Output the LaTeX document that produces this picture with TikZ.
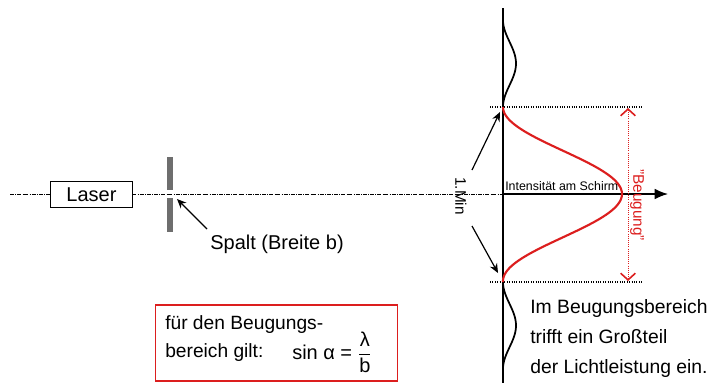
\documentclass[tikz,border=0pt]{standalone}
\usepackage{amsmath}
\usepackage{fontspec}
\setmainfont{Liberation Sans}
\usetikzlibrary{arrows.meta}
\definecolor{beugred}{RGB}{220,30,30}
\definecolor{slitgray}{RGB}{110,110,110}
\tikzset{
  axisline/.style={densely dash dot, line width=0.5pt},
  dotline/.style={densely dotted, line width=0.8pt},
  ptr/.style={-{Stealth[length=7pt,width=6pt]}, line width=0.9pt},
  txt/.style={inner sep=0pt, font=\fontsize{15}{17}\selectfont},
}
\begin{document}
\begin{tikzpicture}[x=0.75pt,y=-0.75pt]
\useasboundingbox (0,0) rectangle (716,383);
% optical axis
\coordinate (axL) at (10,194);
\coordinate (scr) at (503,194);
\coordinate (axR) at (668,194);
\draw[axisline] (axL) -- (scr);
% laser
\node[draw, line width=0.6pt, minimum width=62pt, minimum height=20pt, inner sep=0pt, fill=white, font=\fontsize{15}{17}\selectfont] (laser) at (91.5,194.5) {Laser};
% slit
\fill[slitgray] (167,157) rectangle (173,190);
\fill[slitgray] (167,198) rectangle (173,232);
\coordinate (slit) at (177,199);
\node[txt] (spalt) at (277,244) {Spalt (Breite b)};
\draw[ptr] (207,229) -- (slit);
% screen
\coordinate (scrT) at (503,8);
\coordinate (scrB) at (503,383);
\draw[line width=1.2pt] (scrT) -- (scrB);
% intensity axis
\draw[-{Latex[length=10pt,width=8pt]}, line width=1.1pt] (scr) -- (axR);
\node[inner sep=0pt, anchor=south west, font=\fontsize{9.3}{11}\selectfont] (intens) at (505,191) {Intensität am Schirm};
% dotted lines
\coordinate (d1L) at (490,107); \coordinate (d1R) at (643,107);
\coordinate (d2L) at (490,282); \coordinate (d2R) at (643,282);
\draw[dotline] (d1L) -- (d1R);
\draw[dotline] (d2L) -- (d2R);
% side lobes
\draw[line width=1.3pt, domain=20:107, samples=60, smooth, variable=\y] plot ({503+13*sin(180*(107-\y)/87)^2}, \y);
\draw[line width=1.3pt, domain=282:369, samples=60, smooth, variable=\y] plot ({503+13*sin(180*(\y-282)/87)^2}, \y);
% main maximum
\draw[beugred, line width=1.6pt, domain=107:282, samples=100, smooth, variable=\y] plot ({503+119*cos(90*(\y-194)/87)^2}, \y);
% Beugung arrow
\coordinate (bT) at (628,108);
\coordinate (bB) at (628,281);
\draw[beugred, densely dotted, line width=0.6pt, {Straight Barb[length=5pt,width=11pt,line width=1.2pt]}-{Straight Barb[length=5pt,width=11pt,line width=1.2pt]}] (bT) -- (bB);
\node[txt, text=beugred, rotate=-90, font=\fontsize{11.5}{13}\selectfont] (beug) at (637,205) {"Beugung"};
% 1.Min
\node[txt, rotate=-90, font=\fontsize{11.5}{13}\selectfont] (min) at (461,196) {1.Min};
\draw[ptr] (472,170) -- (500,112);
\draw[ptr] (472,226) -- (498,273);
% text block
\node[txt, anchor=west, font=\fontsize{14.5}{22.5}\selectfont, align=left] (info) at (530,338) {Im Beugungsbereich\\trifft ein Großteil\\der Lichtleistung ein.};
% formula box
\node[draw=beugred, line width=0.8pt, minimum width=182pt, minimum height=57pt, inner sep=0pt] (box) at (276.5,343) {};
\node[txt, anchor=west, align=left, font=\fontsize{14.4}{21}\selectfont] (ftxt) at (165,339) {für den Beugungs-\\bereich gilt:};
\node[txt, anchor=west, font=\fontsize{15}{17}\selectfont] (form) at (292,352) {sin α = $\dfrac{\text{λ}}{\text{b}}$};
\end{tikzpicture}
\end{document}
